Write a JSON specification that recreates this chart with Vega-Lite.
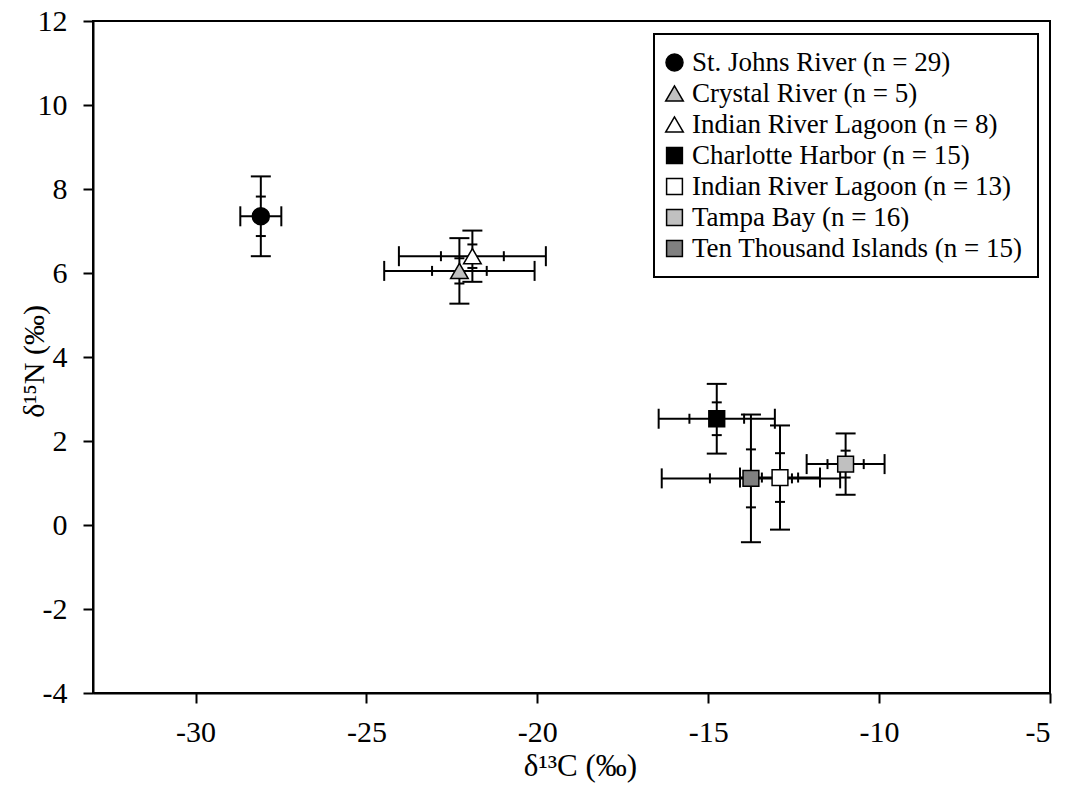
{
  "$schema": "https://vega.github.io/schema/vega-lite/v6.json",
  "width": 957,
  "height": 672,
  "autosize": {"type": "none"},
  "padding": {"left": 93, "top": 21, "right": 23, "bottom": 102},
  "background": "white",
  "data": {"values": [
    {"site": "St. Johns River (n = 29)", "x": -28.09, "y": 7.35, "xlo": -28.69, "xhi": -27.49, "xlo_in": -28.29, "xhi_in": -27.89, "ylo": 6.40, "yhi": 8.30, "ylo_in": 6.88, "yhi_in": 7.82},
    {"site": "Crystal River (n = 5)", "x": -22.28, "y": 6.05, "xlo": -24.48, "xhi": -20.08, "xlo_in": -23.08, "xhi_in": -21.48, "ylo": 5.27, "yhi": 6.83, "ylo_in": 5.75, "yhi_in": 6.35},
    {"site": "Indian River Lagoon (n = 8)", "x": -21.9, "y": 6.4, "xlo": -24.05, "xhi": -19.75, "xlo_in": -22.82, "xhi_in": -20.98, "ylo": 5.79, "yhi": 7.01, "ylo_in": 6.12, "yhi_in": 6.68},
    {"site": "Charlotte Harbor (n = 15)", "x": -14.75, "y": 2.53, "xlo": -16.45, "xhi": -13.05, "xlo_in": -15.55, "xhi_in": -13.95, "ylo": 1.70, "yhi": 3.36, "ylo_in": 2.14, "yhi_in": 2.92},
    {"site": "Indian River Lagoon (n = 13)", "x": -12.9, "y": 1.13, "xlo": -14.07, "xhi": -11.73, "xlo_in": -13.43, "xhi_in": -12.37, "ylo": -0.11, "yhi": 2.37, "ylo_in": 0.55, "yhi_in": 1.71},
    {"site": "Tampa Bay (n = 16)", "x": -10.98, "y": 1.45, "xlo": -12.12, "xhi": -9.84, "xlo_in": -11.51, "xhi_in": -10.45, "ylo": 0.72, "yhi": 2.18, "ylo_in": 1.13, "yhi_in": 1.77},
    {"site": "Ten Thousand Islands (n = 15)", "x": -13.75, "y": 1.11, "xlo": -16.36, "xhi": -11.14, "xlo_in": -14.95, "xhi_in": -12.55, "ylo": -0.41, "yhi": 2.63, "ylo_in": 0.42, "yhi_in": 1.80}
  ]},
  "layer": [
    {
      "mark": {"type": "rule", "color": "black", "strokeWidth": 2},
      "encoding": {
        "x": {
          "field": "xlo", "type": "quantitative", "title": "δ¹³C (‰)",
          "scale": {"domain": [-33, -5], "nice": false, "zero": false},
          "axis": {
            "values": [-30, -25, -20, -15, -10, -5], "grid": false,
            "domainColor": "black", "domainWidth": 2, "tickColor": "black", "tickWidth": 2, "tickSize": 10,
            "labelFont": "Liberation Serif", "labelFontSize": 30, "labelColor": "black", "labelPadding": 14,
            "labelExpr": "datum.value + ''",
            "titleFont": "Liberation Serif", "titleFontSize": 31, "titleFontWeight": "normal", "titleColor": "black",
            "titleX": 487, "titleY": 82, "titleBaseline": "alphabetic"
          }
        },
        "x2": {"field": "xhi"},
        "y": {
          "field": "y", "type": "quantitative", "title": "δ¹⁵N (‰)",
          "scale": {"domain": [-4, 12], "nice": false, "zero": false},
          "axis": {
            "values": [-4, -2, 0, 2, 4, 6, 8, 10, 12], "grid": false,
            "domainColor": "black", "domainWidth": 2, "tickColor": "black", "tickWidth": 2, "tickSize": 10,
            "labelFont": "Liberation Serif", "labelFontSize": 30, "labelColor": "black", "labelPadding": 16,
            "labelExpr": "datum.value + ''",
            "titleFont": "Liberation Serif", "titleFontSize": 30, "titleFontWeight": "normal", "titleColor": "black",
            "titleX": -50, "titleY": 340, "titleBaseline": "alphabetic"
          }
        }
      }
    },
    {
      "mark": {"type": "rule", "color": "black", "strokeWidth": 2},
      "encoding": {
        "x": {"field": "x", "type": "quantitative", "title": "δ¹³C (‰)"},
        "y": {"field": "ylo", "type": "quantitative", "title": "δ¹⁵N (‰)"},
        "y2": {"field": "yhi"}
      }
    },
    {
      "transform": [{"fold": ["xlo", "xhi"], "as": ["k", "cx"]}],
      "mark": {"type": "tick", "orient": "vertical", "size": 20, "thickness": 2, "color": "black", "opacity": 1},
      "encoding": {
        "x": {"field": "cx", "type": "quantitative", "title": "δ¹³C (‰)"},
        "y": {"field": "y", "type": "quantitative", "title": "δ¹⁵N (‰)"}
      }
    },
    {
      "transform": [{"fold": ["xlo_in", "xhi_in"], "as": ["k", "cx"]}],
      "mark": {"type": "tick", "orient": "vertical", "size": 10, "thickness": 2, "color": "black", "opacity": 1},
      "encoding": {
        "x": {"field": "cx", "type": "quantitative", "title": "δ¹³C (‰)"},
        "y": {"field": "y", "type": "quantitative", "title": "δ¹⁵N (‰)"}
      }
    },
    {
      "transform": [{"fold": ["ylo", "yhi"], "as": ["k", "cy"]}],
      "mark": {"type": "tick", "orient": "horizontal", "size": 20, "thickness": 2, "color": "black", "opacity": 1},
      "encoding": {
        "x": {"field": "x", "type": "quantitative", "title": "δ¹³C (‰)"},
        "y": {"field": "cy", "type": "quantitative", "title": "δ¹⁵N (‰)"}
      }
    },
    {
      "transform": [{"fold": ["ylo_in", "yhi_in"], "as": ["k", "cy"]}],
      "mark": {"type": "tick", "orient": "horizontal", "size": 10, "thickness": 2, "color": "black", "opacity": 1},
      "encoding": {
        "x": {"field": "x", "type": "quantitative", "title": "δ¹³C (‰)"},
        "y": {"field": "cy", "type": "quantitative", "title": "δ¹⁵N (‰)"}
      }
    },
    {
      "mark": {"type": "point", "filled": true, "stroke": "black", "strokeWidth": 1.5, "opacity": 1},
      "encoding": {
        "x": {"field": "x", "type": "quantitative", "title": "δ¹³C (‰)"},
        "y": {"field": "y", "type": "quantitative", "title": "δ¹⁵N (‰)"},
        "fill": {
          "field": "site", "type": "nominal", "title": null,
          "scale": {
            "domain": ["St. Johns River (n = 29)", "Crystal River (n = 5)", "Indian River Lagoon (n = 8)", "Charlotte Harbor (n = 15)", "Indian River Lagoon (n = 13)", "Tampa Bay (n = 16)", "Ten Thousand Islands (n = 15)"],
            "range": ["#000000", "#c0c0c0", "#ffffff", "#000000", "#ffffff", "#c0c0c0", "#808080"]
          },
          "legend": {
            "orient": "none", "legendX": 561, "legendY": 13,
            "padding": 15, "rowPadding": 3,
            "labelFont": "Liberation Serif", "labelFontSize": 27, "labelColor": "black", "labelLimit": 600,
            "labelOffset": 4, "symbolOffset": -8,
            "encode": {
              "symbols": {"update": {"stroke": {"value": "black"}, "strokeWidth": {"value": 1.5}, "opacity": {"value": 1}}}
            }
          }
        },
        "shape": {
          "field": "site", "type": "nominal", "title": null,
          "scale": {
            "domain": ["St. Johns River (n = 29)", "Crystal River (n = 5)", "Indian River Lagoon (n = 8)", "Charlotte Harbor (n = 15)", "Indian River Lagoon (n = 13)", "Tampa Bay (n = 16)", "Ten Thousand Islands (n = 15)"],
            "range": ["circle", "triangle-up", "triangle-up", "square", "square", "square", "square"]
          }
        },
        "size": {
          "field": "site", "type": "nominal", "title": null,
          "scale": {
            "type": "ordinal",
            "domain": ["St. Johns River (n = 29)", "Crystal River (n = 5)", "Indian River Lagoon (n = 8)", "Charlotte Harbor (n = 15)", "Indian River Lagoon (n = 13)", "Tampa Bay (n = 16)", "Ten Thousand Islands (n = 15)"],
            "range": [289, 310, 310, 250, 250, 250, 250]
          }
        }
      }
    }
  ],
  "config": {
    "view": {"stroke": "black", "strokeWidth": 2},
    "legend": {"strokeColor": "black", "strokeWidth": 2, "fillColor": "white"}
  }
}
